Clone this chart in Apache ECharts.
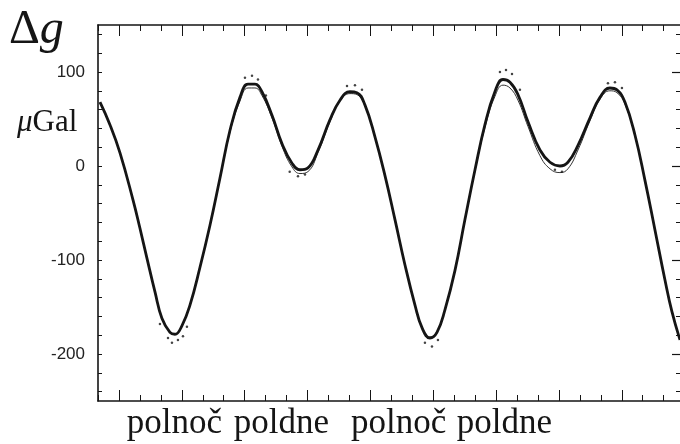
<!DOCTYPE html>
<html>
<head>
<meta charset="utf-8">
<script src="https://cdn.jsdelivr.net/npm/echarts@6/dist/echarts.min.js"></script>
<style>
  html, body { margin: 0; padding: 0; background: #fff; }
  #chart { width: 680px; height: 444px; }
</style>
</head>
<body>
<div id="chart"></div>
<script>
// time in hours, gravity change in microGal
const hours = [-1.81, -0.86, 0.10, 1.34, 2.00, 2.67, 3.44, 4.10, 4.87, 5.35, 6.01, 6.78, 7.73, 8.69, 9.64,
  10.60, 11.55, 12.32, 12.98, 13.65, 14.61, 15.56, 16.52, 17.28, 18.04, 19.00, 20.14, 21.10, 22.05, 22.72,
  23.48, 24.44, 25.39, 26.35, 27.30, 28.26, 28.93, 29.69, 30.36, 31.12, 32.08, 33.03, 33.99, 34.94, 35.89,
  36.66, 37.33, 38.09, 39.05, 40.19, 41.15, 42.10, 42.86, 43.82, 44.96, 45.92, 46.87, 47.54, 48.30, 49.26,
  50.21, 51.17, 52.12, 52.79, 53.56];
const measured = [68, 44, 14, -36, -66, -98, -134, -162, -177, -179, -170, -148, -108, -63, -13,
  38, 73, 87, 87, 79, 54, 24, 3, -4, -2, 17, 49, 70, 79, 78,
  65, 31, -10, -57, -105, -148, -172, -183, -177, -153, -111, -57, -4, 44, 79,
  92, 89, 76, 47, 17, 4, 0, 4, 22, 51, 73, 83, 81, 68, 33,
  -15, -68, -121, -155, -185];
const model = [68, 44, 14, -36, -66, -98, -134, -162, -177, -179, -170, -148, -108, -63, -13,
  36, 69, 83, 83, 75, 51, 21, -1, -8, -6, 14, 47, 69, 77, 76,
  64, 31, -10, -57, -105, -148, -172, -182, -176, -153, -111, -57, -5, 41, 74,
  86, 83, 70, 42, 11, -3, -7, -3, 17, 48, 71, 80, 78, 66, 32,
  -15, -68, -121, -155, -185];
const noiseHours = [3.91, 4.68, 5.06, 5.63, 6.11, 6.49, 12.03, 12.70, 13.27, 14.03, 16.30, 17.09, 17.76,
  21.77, 22.53, 23.20, 29.21, 29.88, 30.45, 36.37, 36.95, 37.52, 38.28, 41.62, 42.29, 46.68, 47.35, 48.02];
const noiseValues = [-168, -183, -188, -185, -181, -171, 94, 96, 92, 75, -6, -11, -9,
  85, 86, 81, -188, -192, -185, 100, 102, 98, 81, -4, -6, 88, 89, 83];

const yMajor = [-200, -100, 0, 100];
const yMinor = [-240, -220, -200, -180, -160, -140, -120, -100, -80, -60, -40, -20, 0, 20, 40, 60, 80, 100, 120, 140];
const xMajor = [0, 6, 12, 18, 24, 30, 36, 42, 48];
const labelHours = [5.3, 15.5, 26.7, 36.8];
const dayLabels = ['polnoč', 'poldne', 'polnoč', 'poldne'];

const xMin = -2, xMax = 53.56, yMin = -250, yMax = 150;
const ink = '#151515';

function pairs(xs, ys) {
  return xs.map(function (x, i) { return [x, ys[i]]; });
}

function xAxisBase(pos, extra) {
  return Object.assign({
    type: 'value', position: pos, min: xMin, max: xMax,
    axisLine: { show: false, onZero: false }, splitLine: { show: false },
    axisLabel: { show: false }, axisTick: { show: false }
  }, extra);
}
function yAxisBase(pos, extra) {
  return Object.assign({
    type: 'value', position: pos, min: yMin, max: yMax,
    axisLine: { show: false, onZero: false }, splitLine: { show: false },
    axisLabel: { show: false }, axisTick: { show: false }
  }, extra);
}

const chart = echarts.init(document.getElementById('chart'));

const option = {
  backgroundColor: '#fff',
  animation: false,
  grid: { left: 98, right: 0, top: 25, bottom: 43, containLabel: false },
  xAxis: [
    xAxisBase('bottom', {
      interval: 2,
      axisLine: { show: true, onZero: false, lineStyle: { color: ink, width: 1.6 } },
      axisTick: { show: true, inside: true, length: 6, lineStyle: { color: ink, width: 1 } }
    }),
    xAxisBase('bottom', {
      axisTick: { show: true, inside: true, length: 11, customValues: xMajor, lineStyle: { color: ink, width: 1 } }
    }),
    xAxisBase('top', {
      interval: 2,
      axisLine: { show: true, onZero: false, lineStyle: { color: ink, width: 1.6 } },
      axisTick: { show: true, inside: true, length: 6, lineStyle: { color: ink, width: 1 } }
    }),
    xAxisBase('top', {
      axisTick: { show: true, inside: true, length: 11, customValues: xMajor, lineStyle: { color: ink, width: 1 } }
    }),
    xAxisBase('bottom', {
      axisLabel: {
        show: true, customValues: labelHours, margin: 5,
        fontFamily: 'Liberation Serif', fontSize: 35, color: ink,
        formatter: function (v) {
          const i = labelHours.indexOf(v);
          return i >= 0 ? dayLabels[i] : '';
        }
      }
    })
  ],
  yAxis: [
    yAxisBase('left', {
      axisLine: { show: true, onZero: false, lineStyle: { color: ink, width: 1.6 } },
      axisTick: { show: true, inside: true, length: 4, customValues: yMinor, lineStyle: { color: ink, width: 1 } },
      axisLabel: {
        show: true, customValues: yMajor, margin: 13,
        fontFamily: 'Liberation Sans', fontSize: 17, color: '#222'
      }
    }),
    yAxisBase('right', {
      axisTick: { show: true, inside: true, length: 4, customValues: yMinor, lineStyle: { color: ink, width: 1 } }
    }),
    yAxisBase('right', {
      axisTick: { show: true, inside: true, length: 8, customValues: yMajor, lineStyle: { color: ink, width: 1.2 } }
    })
  ],
  graphic: [
    {
      type: 'text', left: 9, top: 6,
      style: {
        text: '{a|Δ}{b|g}',
        rich: {
          a: { fontFamily: 'Liberation Serif', fontSize: 48, fill: ink },
          b: { fontFamily: 'Liberation Serif', fontStyle: 'italic', fontSize: 48, fill: ink }
        }
      }
    },
    {
      type: 'text', left: 17, top: 107,
      style: {
        text: '{a|μ}{b|Gal}',
        rich: {
          a: { fontFamily: 'Liberation Serif', fontStyle: 'italic', fontSize: 31, fill: ink },
          b: { fontFamily: 'Liberation Serif', fontSize: 31, fill: ink }
        }
      }
    }
  ],
  series: [
    {
      type: 'line', data: pairs(hours, model), smooth: 0.45, showSymbol: false,
      lineStyle: { color: '#333', width: 1 }, z: 3
    },
    {
      type: 'line', data: pairs(hours, measured), smooth: 0.45, showSymbol: false,
      lineStyle: { color: ink, width: 2.8 }, z: 4
    },
    {
      type: 'scatter', data: pairs(noiseHours, noiseValues), symbolSize: 2.5,
      itemStyle: { color: ink }, z: 5
    }
  ]
};

chart.setOption(option);
</script>
</body>
</html>
